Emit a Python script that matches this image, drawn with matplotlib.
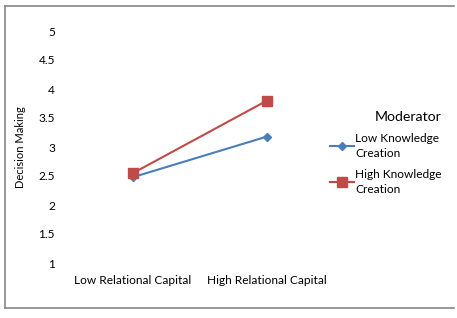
import matplotlib.pyplot as plt
from matplotlib.lines import Line2D

plt.rcParams['font.family'] = ['Lato', 'DejaVu Sans']

categories = ['Low Relational Capital', 'High Relational Capital']
low_kc = [2.48, 3.18]
high_kc = [2.55, 3.80]
yticks = [1, 1.5, 2, 2.5, 3, 3.5, 4, 4.5, 5]

fig = plt.figure(figsize=(4.57, 3.18), dpi=100)

# chart border (Excel style)
fig.add_artist(Line2D([5/457, 5/457], [1-6/318, 1-308/318], color='#868686', lw=1.2))
fig.add_artist(Line2D([5/457, 454/457], [1-6/318, 1-6/318], color='#868686', lw=1.2))
fig.add_artist(Line2D([5/457, 454/457], [1-308/318, 1-308/318], color='#868686', lw=1.2))

ax = fig.add_axes([66/457, 1-263/318, 268/457, 232/318])
x = [0, 1]
ax.plot(x, low_kc, color='#4A7EBB', marker='D', markersize=4.5, lw=1.5,
        label='Low Knowledge\nCreation')
ax.plot(x, high_kc, color='#BE4B48', marker='s', markersize=6.5, lw=1.5,
        label='High Knowledge\nCreation')

ax.set_xlim(-0.5, 1.5)
ax.set_ylim(1, 5)
ax.set_xticks(x)
ax.set_xticklabels(categories, fontsize=8.6)
ax.set_yticks(yticks)
ax.set_yticklabels([f'{v:g}' for v in yticks], fontsize=8.6)
ax.tick_params(axis='both', length=0)
ax.tick_params(axis='y', pad=8)
ax.tick_params(axis='x', pad=9)
for s in ax.spines.values():
    s.set_visible(False)
ax.set_ylabel('Decision Making', fontsize=8, labelpad=9)

leg = ax.legend(loc='upper left', bbox_to_anchor=(0.985, 0.655), frameon=False,
                title='Moderator', fontsize=8.6, handlelength=2.0,
                handletextpad=0.1, labelspacing=0.8, borderpad=0,
                borderaxespad=0)
leg.get_title().set_fontsize(10.2)
for t in leg.get_texts():
    t.set_linespacing(1.5)
leg._legend_box.align = 'right'

fig.savefig('out.png', dpi=100)
